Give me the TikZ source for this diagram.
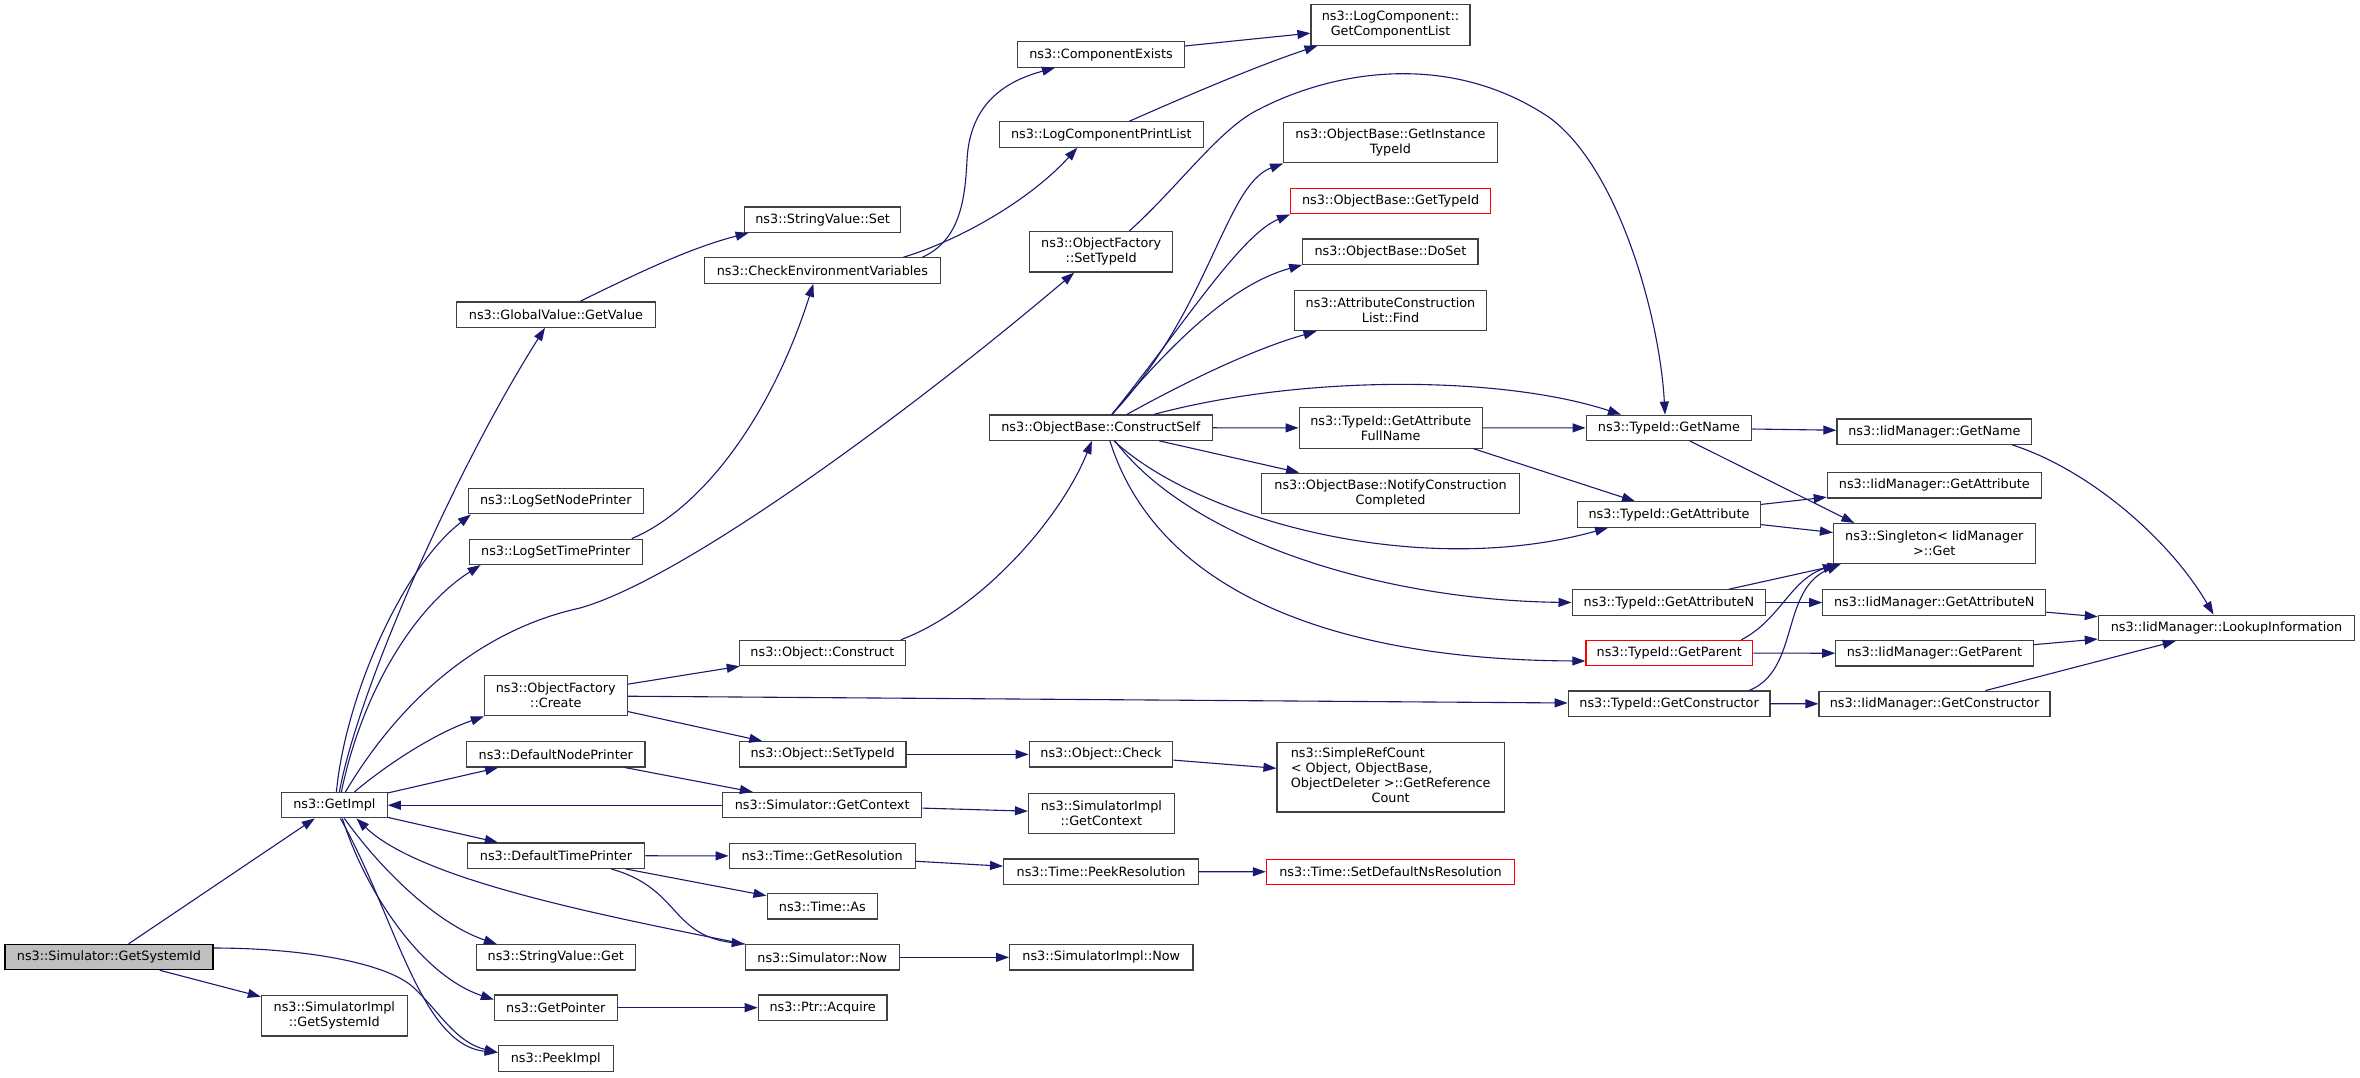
\documentclass[tikz,border=0pt]{standalone}
\usepackage{fontspec}
\setmainfont{DejaVu Sans}
\usetikzlibrary{arrows.meta}
\definecolor{navy}{HTML}{191970}
\definecolor{greyA}{HTML}{404040}
\definecolor{greyB}{HTML}{BFBFBF}
\definecolor{redA}{HTML}{FF0000}
\newcommand\cgfont{\fontsize{12.8}{15}\selectfont}
\begin{document}
\begin{tikzpicture}[x=1pt,y=-1pt,
  cgnode/.style={draw=greyA, line width=1.2pt, fill=white, inner sep=0pt, font=\cgfont, align=center, minimum height=25.3pt},
  two/.style={minimum height=40.3pt},
  redbox/.style={draw=redA},
  cgedge/.style={draw=navy, line width=1.1pt, -{Triangle[length=13pt,width=9pt]}}]
\fill[white] (0,0) rectangle (2360,1077);
\useasboundingbox (0,0) rectangle (2360,1077);
% column 0/1
\node[cgnode, fill=greyB, draw=black, minimum width=208pt] (sgs) at (109,957) {ns3::Simulator::GetSystemId};
\node[cgnode, minimum width=105.6pt] (gimpl) at (334.4,805.2) {ns3::GetImpl};
\node[cgnode, two, minimum width=145.8pt] (sisid) at (334.3,1015.8) {ns3::SimulatorImpl\\::GetSystemId};
% column 2
\node[cgnode, minimum width=199pt] (gvget) at (556,314.6) {ns3::GlobalValue::GetValue};
\node[cgnode, minimum width=174.7pt] (lsnp) at (555.8,501.2) {ns3::LogSetNodePrinter};
\node[cgnode, minimum width=173.3pt] (lstp) at (555.8,551.8) {ns3::LogSetTimePrinter};
\node[cgnode, two, minimum width=142.7pt] (ofcreate) at (555.8,695.7) {ns3::ObjectFactory\\::Create};
\node[cgnode, minimum width=178.5pt] (dnp) at (555.8,754.35) {ns3::DefaultNodePrinter};
\node[cgnode, minimum width=177.5pt] (dtp) at (556,855.65) {ns3::DefaultTimePrinter};
\node[cgnode, minimum width=158.7pt] (svget) at (555.8,957.35) {ns3::StringValue::Get};
\node[cgnode, minimum width=122.7pt] (gptr) at (555.8,1007.65) {ns3::GetPointer};
\node[cgnode, minimum width=115pt] (peek) at (555.8,1058.5) {ns3::PeekImpl};
% column 3
\node[cgnode, minimum width=156pt] (svset) at (822.6,219.65) {ns3::StringValue::Set};
\node[cgnode, minimum width=236pt] (cenv) at (822.4,270.5) {ns3::CheckEnvironmentVariables};
\node[cgnode, minimum width=165.7pt] (oconstr) at (822.4,653) {ns3::Object::Construct};
\node[cgnode, minimum width=166.8pt] (osettid) at (822.6,754.35) {ns3::Object::SetTypeId};
\node[cgnode, minimum width=199pt] (sgctx) at (822.2,805.2) {ns3::Simulator::GetContext};
\node[cgnode, minimum width=186pt] (tgres) at (822.2,856) {ns3::Time::GetResolution};
\node[cgnode, minimum width=110.6pt] (tas) at (822.4,906.35) {ns3::Time::As};
\node[cgnode, minimum width=153.8pt] (snow) at (822.2,957.35) {ns3::Simulator::Now};
\node[cgnode, minimum width=128.6pt] (pacq) at (822.6,1007.65) {ns3::Ptr::Acquire};
% column 4
\node[cgnode, minimum width=167pt] (cexists) at (1101,54.5) {ns3::ComponentExists};
\node[cgnode, minimum width=203.8pt] (lcpl) at (1101.3,134.5) {ns3::LogComponentPrintList};
\node[cgnode, two, minimum width=143pt] (ofsettid) at (1101.2,251.85) {ns3::ObjectFactory\\::SetTypeId};
\node[cgnode, minimum width=223pt] (cself) at (1100.9,427.65) {ns3::ObjectBase::ConstructSelf};
\node[cgnode, minimum width=143.5pt] (ocheck) at (1101,754.35) {ns3::Object::Check};
\node[cgnode, two, minimum width=145.8pt] (sictx) at (1101.4,813.3) {ns3::SimulatorImpl\\::GetContext};
\node[cgnode, minimum width=195pt] (tpeek) at (1101.1,871.65) {ns3::Time::PeekResolution};
\node[cgnode, minimum width=183.2pt] (sinow) at (1101.3,957.35) {ns3::SimulatorImpl::Now};
% column 5
\node[cgnode, two, minimum width=159pt] (gcl) at (1390.5,25) {ns3::LogComponent::\\GetComponentList};
\node[cgnode, two, minimum width=213.5pt] (ginst) at (1390.4,142.7) {ns3::ObjectBase::GetInstance\\TypeId};
\node[cgnode, redbox, minimum width=200pt] (gtid) at (1390.6,201.2) {ns3::ObjectBase::GetTypeId};
\node[cgnode, minimum width=175.3pt] (doset) at (1390.4,251.65) {ns3::ObjectBase::DoSet};
\node[cgnode, two, minimum width=192.5pt] (acfind) at (1390.5,310.5) {ns3::AttributeConstruction\\List::Find};
\node[cgnode, two, minimum width=183pt] (fullname) at (1390.7,428) {ns3::TypeId::GetAttribute\\FullName};
\node[cgnode, two, minimum width=257.5pt] (notify) at (1390.6,493.3) {ns3::ObjectBase::NotifyConstruction\\Completed};
\node[cgnode, minimum width=227.3pt, minimum height=69.3pt] (src) at (1390.7,777.35) {\begin{tabular}{@{}l@{}}ns3::SimpleRefCount\\< Object, ObjectBase,\\\multicolumn{1}{@{}c@{}}{ObjectDeleter >::GetReference}\\\multicolumn{1}{@{}c@{}}{Count}\end{tabular}};
\node[cgnode, redbox, minimum width=248.3pt] (sdns) at (1390.5,871.8) {ns3::Time::SetDefaultNsResolution};
% column 6
\node[cgnode, minimum width=165.7pt] (tgname) at (1669,427.8) {ns3::TypeId::GetName};
\node[cgnode, minimum width=183pt] (tgattr) at (1669,514.5) {ns3::TypeId::GetAttribute};
\node[cgnode, minimum width=193.6pt] (tgattrn) at (1668.9,602.5) {ns3::TypeId::GetAttributeN};
\node[cgnode, redbox, minimum width=166.8pt] (tgpar) at (1669.3,653) {ns3::TypeId::GetParent};
\node[cgnode, minimum width=201.7pt] (tgcons) at (1669.1,703.7) {ns3::TypeId::GetConstructor};
% column 7
\node[cgnode, minimum width=194.8pt] (igname) at (1934.3,431.65) {ns3::IidManager::GetName};
\node[cgnode, minimum width=214pt] (igattr) at (1934.3,485.35) {ns3::IidManager::GetAttribute};
\node[cgnode, two, minimum width=201.6pt] (single) at (1934.3,543.7) {ns3::Singleton< IidManager\\ >::Get};
\node[cgnode, minimum width=223pt] (igattrn) at (1934.3,602.5) {ns3::IidManager::GetAttributeN};
\node[cgnode, minimum width=197.4pt] (igpar) at (1934.5,653.35) {ns3::IidManager::GetParent};
\node[cgnode, minimum width=231.1pt] (igcons) at (1934.5,703.85) {ns3::IidManager::GetConstructor};
% column 8
\node[cgnode, minimum width=256.3pt] (lookup) at (2226.5,627.8) {ns3::IidManager::LookupInformation};

% ---- edges ----
\draw[cgedge] (sgs) -- (gimpl);
\draw[cgedge] (sgs) -- (sisid);
\draw[cgedge] ([yshift=9pt]sgs.east) .. controls (300,948) and (385,962) .. (413,987) .. controls (440,1012) and (455,1042) .. ([yshift=6pt]peek.west);
\draw[cgedge] ([xshift=5pt]gimpl.north) .. controls (358,690) and (455,470) .. ([xshift=-11pt]gvget.south);
\draw[cgedge] ([xshift=2pt]gimpl.north) .. controls (345,700) and (400,570) .. ([xshift=3pt]lsnp.south west);
\draw[cgedge] ([xshift=7pt]gimpl.north) .. controls (360,700) and (410,610) .. ([xshift=12pt]lstp.south west);
\draw[cgedge] ([xshift=11pt]gimpl.north) .. controls (400,700) and (480,630) .. (580,608) .. controls (680,580) and (900,420) .. ([xshift=-27pt]ofsettid.south);
\draw[cgedge] ([xshift=20pt]gimpl.north) .. controls (380,770) and (430,735) .. (ofcreate.south west);
\draw[cgedge] (gimpl) -- (dnp);
\draw[cgedge] (gimpl) -- (dtp);
\draw[cgedge] (sgctx) -- (gimpl);
\draw[cgedge] (snow.north west) .. controls (600,915) and (420,880) .. ([xshift=22pt]gimpl.south);
\draw[cgedge] ([xshift=10pt]gimpl.south) .. controls (385,875) and (440,925) .. ([xshift=21pt]svget.north west);
\draw[cgedge] ([xshift=8pt]gimpl.south) .. controls (365,890) and (420,975) .. ([yshift=8pt]gptr.west);
\draw[cgedge] ([xshift=6pt]gimpl.south) .. controls (395,915) and (420,1045) .. ([yshift=6pt]peek.west);
\draw[cgedge] ([xshift=55pt]dtp.south) .. controls (680,888) and (670,935) .. (snow.north west);
% top part
\draw[cgedge] ([xshift=24pt]gvget.north) .. controls (640,272) and (690,248) .. ([xshift=-74pt]svset.south);
\draw[cgedge] ([xshift=76pt]lstp.north) .. controls (700,510) and (770,420) .. ([xshift=-9pt]cenv.south);
\draw[cgedge] ([xshift=100pt]cenv.north) .. controls (960,240) and (965,200) .. (967,160) .. controls (970,100) and (1010,80) .. ([xshift=-46pt]cexists.south);
\draw[cgedge] ([xshift=81pt]cenv.north) .. controls (960,240) and (1030,200) .. ([xshift=-24pt]lcpl.south);
\draw[cgedge] (cexists) -- (gcl);
\draw[cgedge] ([xshift=28pt]lcpl.north) .. controls (1200,90) and (1260,65) .. ([xshift=-73pt]gcl.south);
\draw[cgedge] ([xshift=28pt]ofsettid.north) .. controls (1175,190) and (1215,135) .. (1252,113) .. controls (1330,70) and (1450,50) .. (1550,118) .. controls (1620,170) and (1660,320) .. ([xshift=-4pt]tgname.north);
% middle
\draw[cgedge] (ofcreate) -- (oconstr);
\draw[cgedge] (ofcreate) -- (osettid);
\draw[cgedge] (ofcreate) -- (tgcons);
\draw[cgedge] ([xshift=-5pt]oconstr.north east) .. controls (980,610) and (1060,520) .. ([xshift=-9pt]cself.south);
\draw[cgedge] (osettid) -- (ocheck);
\draw[cgedge] (ocheck) -- (src);
\draw[cgedge] (dnp) -- (sgctx);
\draw[cgedge] (sgctx) -- (sictx);
\draw[cgedge] (dtp) -- (tgres);
\draw[cgedge] (dtp) -- (tas);
\draw[cgedge] (tgres) -- (tpeek);
\draw[cgedge] (tpeek) -- (sdns);
\draw[cgedge] (snow) -- (sinow);
\draw[cgedge] (gptr) -- (pacq);
% ConstructSelf fan
\draw[cgedge] ([xshift=11pt]cself.north) .. controls (1210,310) and (1225,185) .. (ginst.south west);
\draw[cgedge] ([xshift=11pt]cself.north) .. controls (1180,330) and (1240,235) .. (gtid.south west);
\draw[cgedge] ([xshift=11pt]cself.north) .. controls (1170,345) and (1230,285) .. (doset.south west);
\draw[cgedge] ([xshift=26pt]cself.north) .. controls (1180,385) and (1250,350) .. ([xshift=-74pt]acfind.south);
\draw[cgedge] ([xshift=53pt]cself.north) .. controls (1300,375) and (1500,375) .. ([xshift=-48pt]tgname.north);
\draw[cgedge] (cself) -- (fullname);
\draw[cgedge] (cself) -- (notify);
\draw[cgedge] ([xshift=13pt]cself.south) .. controls (1200,520) and (1420,580) .. ([xshift=-61pt]tgattr.south);
\draw[cgedge] ([xshift=14pt]cself.south) .. controls (1190,540) and (1380,600) .. (tgattrn.west);
\draw[cgedge] ([xshift=9pt]cself.south) .. controls (1160,600) and (1350,660) .. ([yshift=-8pt]tgpar.west);
% TypeId column
\draw[cgedge] (fullname) -- (tgname);
\draw[cgedge] ([xshift=83pt]fullname.south) -- ([xshift=-34pt]tgattr.north);
\draw[cgedge] (tgname) -- (igname);
\draw[cgedge] ([xshift=21pt]tgname.south) -- ([xshift=-80pt]single.north);
\draw[cgedge] (tgattr) -- (igattr);
\draw[cgedge] (tgattr) -- (single);
\draw[cgedge] (tgattrn) -- (single);
\draw[cgedge] (tgattrn) -- (igattrn);
\draw[cgedge] ([xshift=72pt]tgpar.north) .. controls (1780,620) and (1790,580) .. ([xshift=3pt]single.south west);
\draw[cgedge] (tgpar) -- (igpar);
\draw[cgedge] ([xshift=80pt]tgcons.north) .. controls (1800,670) and (1780,590) .. ([xshift=7pt]single.south west);
\draw[cgedge] (tgcons) -- (igcons);
% IidManager column
\draw[cgedge] ([xshift=78pt]igname.south) .. controls (2090,470) and (2170,540) .. ([xshift=-13pt]lookup.north);
\draw[cgedge] (igattrn) -- (lookup);
\draw[cgedge] (igpar) -- (lookup);
\draw[cgedge] (igcons) -- (lookup);
\end{tikzpicture}
\end{document}
